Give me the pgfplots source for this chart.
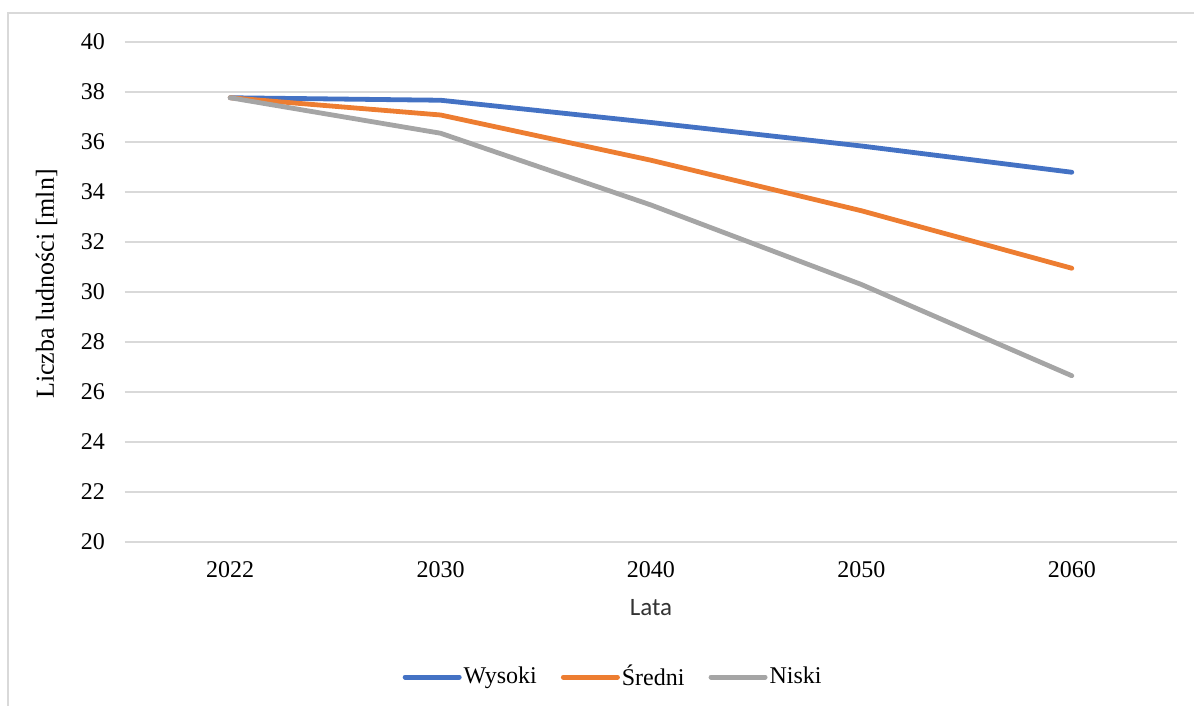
\documentclass[border=0pt]{standalone}
\usepackage{fontspec}
\setmainfont{Liberation Serif}
\newfontfamily\calibri{Carlito}
\newfontfamily\timesf{Liberation Serif}
\usepackage{pgfplots}
\pgfplotsset{compat=1.18}
\definecolor{cBlue}{HTML}{4472C4}
\definecolor{cOrange}{HTML}{ED7D31}
\definecolor{cGray}{HTML}{A5A5A5}
\definecolor{cGrid}{HTML}{D9D9D9}
\begin{document}
\begin{tikzpicture}
\useasboundingbox (0,0) rectangle (597pt,353pt);
\draw[cGrid, line width=0.8pt] (4pt,0pt) -- (4pt,346.5pt) -- (597pt,346.5pt);
\begin{axis}[
  at={(62.5pt,82pt)}, anchor=south west,
  scale only axis, width=526pt, height=250pt,
  xmin=-0.5, xmax=4.5, ymin=20, ymax=40,
  xtick={0,1,2,3,4},
  xticklabels={\mbox{\timesf 2022},\mbox{\timesf 2030},\mbox{\timesf 2040},\mbox{\timesf 2050},\mbox{\timesf 2060}},
  ytick={20,22,...,40},
  yticklabel={\mbox{\timesf\pgfmathprintnumber[assume math mode=true]{\tick}}},
  ymajorgrids, grid style={cGrid, line width=1pt},
  axis line style={draw=none},
  major tick length=0pt,
  /pgf/number format/assume math mode=true,
  ticklabel style={font=\fontsize{12}{14}\selectfont},
  yticklabel style={xshift=-6.5pt},
  xticklabel style={yshift=-6pt},
  xlabel={\calibri Lata},
  xlabel style={at={(axis description cs:0.5,-0.132)}, anchor=center, font=\fontsize{12.5}{14}\selectfont, text=black!80},
  ylabel={Liczba ludności [mln]},
  ylabel style={at={(axis description cs:-0.0745,0.516)}, anchor=center, rotate=0, font=\fontsize{13}{15}\selectfont},
  legend columns=3,
  legend style={draw=none, fill=none, at={(axis description cs:0.464,-0.27)}, anchor=center,
    font=\fontsize{12}{14}\selectfont,
    nodes={inner xsep=1pt},
    /tikz/every even column/.append style={column sep=11pt}},
  legend image code/.code={\draw[#1, line width=2.5pt, line cap=round] (0pt,0pt) -- (27pt,0pt);},
  every axis plot/.append style={line width=2.4pt, line cap=round, line join=round},
  clip=false,
]
\addplot[cBlue] coordinates {(0,37.77) (1,37.67) (2,36.78) (3,35.84) (4,34.79)};
\addlegendentry{Wysoki}
\addplot[cOrange] coordinates {(0,37.77) (1,37.08) (2,35.27) (3,33.25) (4,30.95)};
\addlegendentry{Średni}
\addplot[cGray] coordinates {(0,37.77) (1,36.35) (2,33.48) (3,30.3) (4,26.65)};
\addlegendentry{Niski}
\end{axis}
\end{tikzpicture}
\end{document}
